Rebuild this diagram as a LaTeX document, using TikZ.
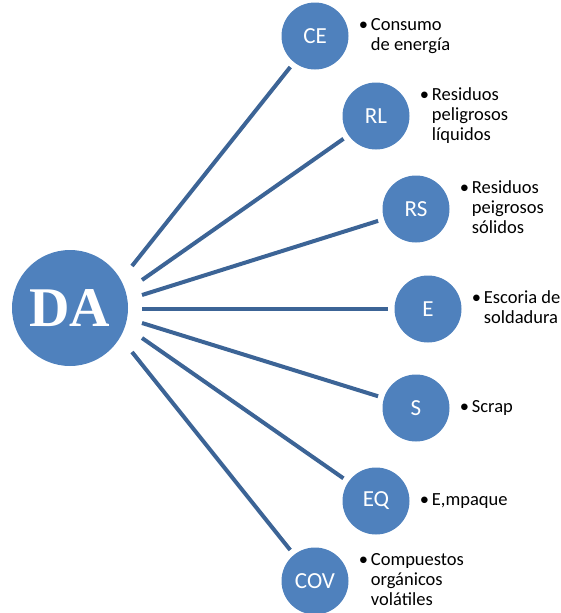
\documentclass[tikz,border=0pt]{standalone}
\usepackage{fontspec}
\setmainfont{Carlito}
\newfontfamily\hubfont{Liberation Serif}
\usepackage{tikz}
\usetikzlibrary{positioning}
\definecolor{myblue}{RGB}{79,129,189}
\definecolor{mylinkblue}{RGB}{60,100,150}
\tikzstyle{hub}=[fill=myblue,circle,minimum size=116pt,inner sep=0pt,text=white,font=\hubfont\bfseries\fontsize{56}{60}\selectfont]
\tikzstyle{leaf}=[fill=myblue,circle,minimum size=67pt,inner sep=0pt,text=white,font=\fontsize{23}{26}\selectfont]
\tikzstyle{link}=[draw=mylinkblue,line width=4pt,shorten >=6pt]
\tikzstyle{note}=[inner sep=0pt,font=\fontsize{18.5}{20}\selectfont]
\newcommand{\bulletlines}[1]{\begin{tabular}{@{}p{12pt}@{}l@{}}\textbullet & #1\end{tabular}}

\begin{document}
\begin{tikzpicture}[x=1pt,y=-1pt]
\useasboundingbox (0,0) rectangle (561,613);
\node [hub] (da) at (70,308) {DA};
\node [leaf] (ce) at (315,36) {CE};
\node [leaf] (rl) at (376,116) {RL};
\node [leaf] (rs) at (416,209) {RS};
\node [leaf] (e) at (428,309) {E};
\node [leaf] (s) at (416,408) {S};
\node [leaf] (eq) at (376,501) {EQ};
\node [leaf] (cov) at (315,581) {COV};
% start points of the spokes, just right of DA
\coordinate (ce-in) at (132,266);
\coordinate (rl-in) at (142,280);
\coordinate (rs-in) at (142,295);
\coordinate (e-in) at (142,309);
\coordinate (s-in) at (142,323);
\coordinate (eq-in) at (142,338);
\coordinate (cov-in) at (132,352);
\draw[link] (ce-in) -- (ce);
\draw[link] (rl-in) -- (rl);
\draw[link] (rs-in) -- (rs);
\draw[link] (e-in) -- (e);
\draw[link] (s-in) -- (s);
\draw[link] (eq-in) -- (eq);
\draw[link] (cov-in) -- (cov);
\node [note] [right=10pt of ce] (cetext) {\bulletlines{Consumo\\ & de energía}};
\node [note] [right=10pt of rl] (rltext) {\bulletlines{Residuos\\ & peligrosos\\ & líquidos}};
\node [note] [right=10pt of rs] (rstext) {\bulletlines{Residuos\\ & peigrosos\\ & sólidos}};
\node [note] [right=10pt of e] (etext) {\bulletlines{Escoria de\\ & soldadura}};
\node [note] [right=10pt of s] (stext) {\bulletlines{Scrap}};
\node [note] [right=10pt of eq] (eqtext) {\bulletlines{E,mpaque}};
\node [note] [right=10pt of cov] (covtext) {\bulletlines{Compuestos\\ & orgánicos\\ & volátiles}};
\end{tikzpicture}
\end{document}
